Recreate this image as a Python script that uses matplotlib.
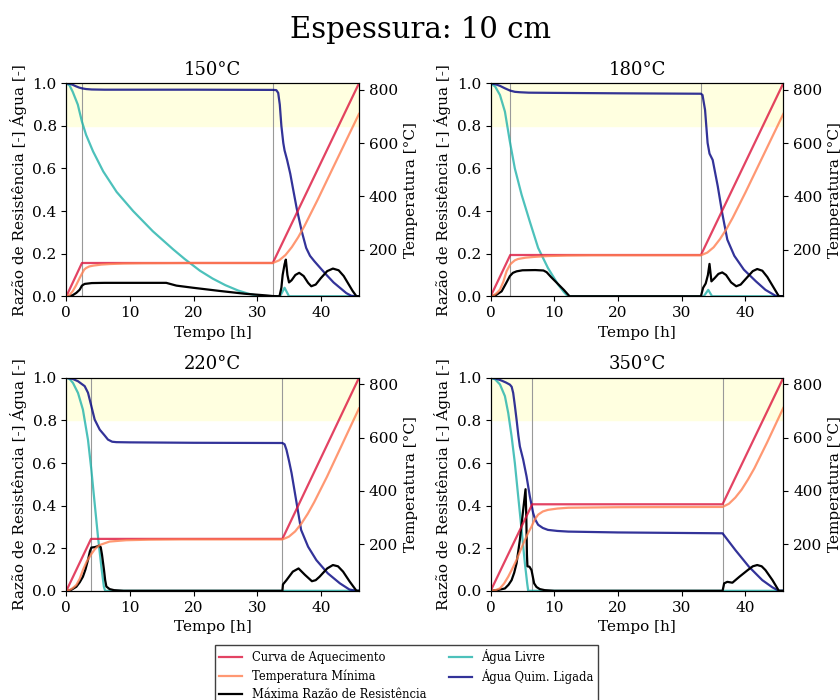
"""
Espessura 10 cm: curvas de aquecimento, água livre / quimicamente ligada
e máxima razão de resistência para quatro patamares de temperatura.
"""

import matplotlib
matplotlib.use("Agg")
import matplotlib.pyplot as plt

plt.rcParams["font.family"] = "serif"

# -------------------- dados --------------------
patamares = ["150°C", "180°C", "220°C", "350°C"]
t_fim = 46.0

# início / fim do patamar [h]
t_inicio = [2.45, 3.08, 3.88, 6.53]
t_final = [32.45, 33.05, 33.96, 36.45]

# curva de aquecimento (pontos de quebra)
aq_t = [
    [0, 2.45, 32.45, 46],
    [0, 3.08, 33.05, 46],
    [0, 3.88, 33.96, 46],
    [0, 6.53, 36.45, 46],
]
aq_T = [
    [25, 150, 150, 825],
    [25, 180, 180, 825],
    [25, 220, 220, 825],
    [25, 350, 350, 825],
]

# temperatura mínima [°C]
tmin_t = [
    [0, 0.5, 1.0, 1.5, 2.1, 2.45, 2.8, 3.1, 3.6, 4.2, 5.5, 6.8, 9, 12, 20,
     32.45, 33.45, 34.45, 35.45, 36.45, 37.45, 39.45, 42, 46],
    [0, 0.5, 1.0, 1.46, 2.0, 2.5, 3.08, 3.3, 3.8, 4.3, 5.5, 6.9, 9, 12, 16,
     33.05, 34.05, 35.05, 36.05, 37.05, 38.05, 40.05, 46],
    [0, 0.5, 1.0, 1.57, 2.1, 2.6, 3.2, 3.93, 4.5, 5.24, 6.8, 9.4, 13, 18,
     33.96, 34.96, 35.96, 36.96, 37.96, 38.96, 40.96, 46],
    [0, 0.7, 1.46, 2.1, 2.76, 3.4, 4.07, 4.7, 5.38, 5.9, 6.42, 6.9, 7.46, 8.2,
     9.0, 10.5, 12.2, 20, 36.45, 37.45, 38.45, 39.45, 40.45, 41.45, 43.45, 46],
]
tmin_T = [
    [25, 30, 44, 65, 94, 110, 125, 131, 137, 140, 144, 146, 148, 149, 150,
     150, 160, 180, 210, 247, 290, 385, 512, 710],
    [25, 29, 38, 50, 80, 119, 145, 150, 160, 165, 170, 173, 176, 178, 179,
     179, 189, 209, 240, 277, 320, 415, 710],
    [25, 28, 35, 47, 70, 103, 135, 163, 182, 197, 210, 215, 217, 218,
     218, 228, 248, 278, 315, 358, 453, 710],
    [25, 27, 34, 52, 78, 108, 141, 178, 216, 243, 266, 292, 311, 323,
     329, 334, 337, 339, 340, 352, 375, 405, 443, 485, 582, 712],
]

# água livre [-]
livre_t = [
    [0, 0.5, 1.0, 1.8, 2.0, 2.45, 3.1, 4.2, 5.8, 7.9, 10.5, 13.6, 16.8, 18.6,
     21, 23, 25, 27, 28.5, 30, 31, 33.6, 34.3, 35.0, 46],
    [0, 0.7, 1.46, 2.24, 3.02, 3.8, 4.86, 6.16, 7.46, 9.0, 10.6, 11.5, 12.15,
     33.5, 34.2, 34.8, 46],
    [0, 0.5, 1.04, 1.83, 2.6, 3.4, 3.93, 4.45, 4.97, 5.5, 5.9, 6.1, 46],
    [0, 0.7, 1.46, 2.24, 2.76, 3.29, 3.8, 4.33, 4.86, 5.38, 5.74, 5.9, 46],
]
livre_y = [
    [1.0, 0.99, 0.96, 0.90, 0.875, 0.82, 0.758, 0.68, 0.586, 0.49, 0.40, 0.305,
     0.22, 0.175, 0.12, 0.083, 0.052, 0.027, 0.013, 0.003, 0.0, 0.0, 0.04,
     0.0, 0.0],
    [1.0, 0.985, 0.945, 0.867, 0.726, 0.60, 0.477, 0.35, 0.227, 0.133, 0.055,
     0.02, 0.0, 0.0, 0.03, 0.0, 0.0],
    [1.0, 0.995, 0.976, 0.929, 0.851, 0.709, 0.568, 0.41, 0.254, 0.113, 0.019,
     0.0, 0.0],
    [1.0, 0.993, 0.969, 0.914, 0.835, 0.725, 0.60, 0.443, 0.286, 0.129, 0.035,
     0.0, 0.0],
]

# água quimicamente ligada [-]
ligada_t = [
    [0, 0.5, 1.0, 1.5, 2.0, 2.5, 3.1, 4, 6, 10, 20, 32.45, 33.0, 33.3, 33.55,
     33.8, 34.1, 34.3, 34.7, 35.2, 35.6, 36.2, 37.0, 37.7, 38.3, 39.0, 40.0,
     40.9, 42, 43, 44, 44.8, 46],
    [0, 0.7, 1.46, 2.2, 3.03, 3.8, 4.6, 6, 10, 20, 33.05, 33.3, 33.7, 34.1,
     34.4, 34.9, 35.7, 36.4, 37.2, 38.3, 39.8, 41.7, 43.2, 44.8, 46],
    [0, 1.0, 1.83, 2.88, 3.4, 3.93, 4.45, 5.24, 6.0, 6.54, 7.2, 7.86, 10, 20,
     33.96, 34.3, 34.6, 35.0, 35.4, 36.2, 36.9, 38.0, 39.3, 41.1, 43.0, 44.5,
     45.6, 46],
    [0, 0.8, 1.72, 2.4, 3.02, 3.3, 3.54, 3.8, 4.07, 4.35, 4.59, 5.11, 5.64,
     6.16, 6.68, 7.0, 7.46, 8.2, 9.0, 10.5, 12.2, 20, 36.45, 38.5, 40.6, 42.7,
     44.3, 45.3, 46],
]
ligada_y = [
    [1.0, 0.998, 0.993, 0.986, 0.98, 0.976, 0.973, 0.971, 0.970, 0.970, 0.970,
     0.969, 0.968, 0.955, 0.90, 0.80, 0.72, 0.685, 0.64, 0.575, 0.51, 0.414,
     0.305, 0.227, 0.19, 0.164, 0.13, 0.10, 0.065, 0.04, 0.015, 0.002, 0.0],
    [1.0, 0.996, 0.988, 0.977, 0.966, 0.960, 0.958, 0.956, 0.955, 0.953, 0.951,
     0.945, 0.875, 0.72, 0.67, 0.64, 0.516, 0.39, 0.266, 0.19, 0.125, 0.07,
     0.03, 0.002, 0.0],
    [1.0, 0.995, 0.984, 0.961, 0.93, 0.867, 0.804, 0.757, 0.73, 0.71, 0.70,
     0.698, 0.697, 0.695, 0.694, 0.688, 0.662, 0.61, 0.553, 0.411, 0.286,
     0.207, 0.144, 0.082, 0.035, 0.006, 0.0, 0.0],
    [1.0, 0.997, 0.987, 0.978, 0.968, 0.958, 0.929, 0.87, 0.804, 0.73, 0.678,
     0.616, 0.537, 0.443, 0.365, 0.335, 0.31, 0.295, 0.286, 0.281, 0.278,
     0.274, 0.27, 0.19, 0.113, 0.05, 0.016, 0.0, 0.0],
]

# máxima razão de resistência [-]
razao_t = [
    [0, 0.5, 1.0, 1.57, 2.1, 2.45, 2.88, 4.0, 6, 10, 15.7, 17.3, 19.9, 24.1,
     28, 31.4, 32.45, 33.5, 33.8, 34.0, 34.3, 34.5, 34.75, 35.0, 35.4, 36.0,
     36.6, 37.3, 38.0, 38.5, 39.2, 40.0, 41.0, 41.9, 42.8, 43.6, 44.4, 45.0,
     45.6, 46],
    [0, 0.8, 1.72, 2.4, 3.02, 3.5, 4.07, 5, 7, 8.3, 8.8, 9.5, 10.5, 11.5,
     12.4, 33.05, 33.4, 33.8, 34.15, 34.4, 34.7, 35.2, 35.8, 36.4, 37.0, 37.8,
     38.6, 39.3, 40.2, 41.2, 41.9, 42.7, 43.5, 44.3, 45.3, 46],
    [0, 0.8, 1.57, 2.1, 2.6, 3.0, 3.4, 3.7, 3.93, 4.45, 4.8, 5.13, 5.4, 5.6,
     5.92, 6.1, 6.29, 6.8, 7.5, 9, 33.96, 34.05, 34.6, 35.1, 35.6, 36.5, 37.5,
     38.6, 39.2, 39.8, 41.0, 41.9, 42.7, 43.5, 44.5, 45.6, 46],
    [0, 1.2, 2.24, 2.8, 3.29, 3.7, 4.07, 4.59, 5.11, 5.48, 5.6, 5.7, 5.78,
     6.1, 6.42, 6.6, 6.83, 7.2, 7.72, 8.5, 10, 36.45, 36.6, 36.7, 37.2, 38.0,
     39.1, 40.4, 41.2, 41.9, 42.6, 43.2, 44.3, 45.3, 46],
]
razao_y = [
    [0, 0.001, 0.005, 0.016, 0.031, 0.05, 0.058, 0.062, 0.063, 0.063, 0.063,
     0.05, 0.04, 0.025, 0.012, 0.004, 0.001, 0.0, 0.04, 0.10, 0.15, 0.172,
     0.10, 0.065, 0.075, 0.10, 0.11, 0.095, 0.063, 0.047, 0.055, 0.085, 0.118,
     0.13, 0.122, 0.095, 0.055, 0.025, 0.0, 0.0],
    [0, 0.005, 0.023, 0.06, 0.095, 0.11, 0.117, 0.122, 0.123, 0.121, 0.113,
     0.09, 0.06, 0.03, 0.0, 0.0, 0.04, 0.06, 0.1, 0.152, 0.07, 0.085, 0.105,
     0.112, 0.1, 0.065, 0.047, 0.055, 0.085, 0.118, 0.128, 0.12, 0.09, 0.05,
     0.0, 0.0],
    [0, 0.005, 0.019, 0.04, 0.066, 0.1, 0.145, 0.185, 0.203, 0.205, 0.208,
     0.212, 0.205, 0.17, 0.097, 0.05, 0.02, 0.008, 0.003, 0.0, 0.0, 0.03,
     0.05, 0.07, 0.09, 0.105, 0.075, 0.045, 0.05, 0.066, 0.105, 0.121, 0.115,
     0.09, 0.045, 0.0, 0.0],
    [0, 0.004, 0.011, 0.028, 0.05, 0.085, 0.129, 0.239, 0.38, 0.477, 0.35,
     0.17, 0.115, 0.113, 0.097, 0.07, 0.035, 0.018, 0.008, 0.003, 0.0, 0.0,
     0.02, 0.035, 0.042, 0.038, 0.066, 0.097, 0.115, 0.121, 0.115, 0.097,
     0.05, 0.0, 0.0],
]

# -------------------- estilo --------------------
COR_AQ = "crimson"
COR_TMIN = "coral"
COR_LIVRE = "lightseagreen"
COR_LIGADA = "navy"
COR_RAZAO = "black"
ALPHA = 0.8
LW = 1.6


def painel(ax, i):
    ax.axhspan(0.8, 1.0, color="lightyellow", zorder=0)
    ax.axvline(t_inicio[i], color="0.6", lw=0.8)
    ax.axvline(t_final[i], color="0.6", lw=0.8)

    ax.plot(livre_t[i], livre_y[i], color=COR_LIVRE, alpha=ALPHA, lw=LW,
            label="Água Livre")
    ax.plot(ligada_t[i], ligada_y[i], color=COR_LIGADA, alpha=ALPHA, lw=LW,
            label="Água Quim. Ligada")
    ax.plot(razao_t[i], razao_y[i], color=COR_RAZAO, lw=LW,
            label="Máxima Razão de Resistência")
    ax.set_xlim(0, t_fim)
    ax.set_ylim(0, 1)
    ax.set_xticks([0, 10, 20, 30, 40])
    ax.set_xlabel("Tempo [h]", fontsize=11)
    ax.set_ylabel("Razão de Resistência [-] Água [-]", fontsize=11)
    ax.set_title(patamares[i], fontsize=13)
    ax.tick_params(labelsize=11)

    ax2 = ax.twinx()
    ax2.plot(aq_t[i], aq_T[i], color=COR_AQ, alpha=ALPHA, lw=LW,
             label="Curva de Aquecimento")
    ax2.plot(tmin_t[i], tmin_T[i], color=COR_TMIN, alpha=ALPHA, lw=LW,
             label="Temperatura Mínima")
    ax2.set_ylim(25, 825)
    ax2.set_yticks([200, 400, 600, 800])
    ax2.set_ylabel("Temperatura [°C]", fontsize=11)
    ax2.tick_params(labelsize=11)
    return ax2


def main():
    fig, axes = plt.subplots(2, 2, figsize=(8.4, 7), dpi=100)
    fig.subplots_adjust(left=0.079, right=0.9325, bottom=0.156, top=0.881,
                        wspace=0.45, hspace=0.383)

    for i, ax in enumerate(axes.flat):
        ax2 = painel(ax, i)

    h1, l1 = ax.get_legend_handles_labels()
    h2, l2 = ax2.get_legend_handles_labels()
    # ordem: aquecimento, mínima, razão | livre, ligada
    handles = [h2[0], h2[1], h1[2], h1[0], h1[1]]
    labels = [l2[0], l2[1], l1[2], l1[0], l1[1]]
    fig.legend(handles, labels, loc="upper center",
               bbox_to_anchor=(0.484, 0.087), ncol=2, fontsize=8.3,
               labelspacing=0.42, fancybox=False, edgecolor="0.25",
               framealpha=1)

    fig.suptitle("Espessura: 10 cm", fontsize=21, y=0.977)
    fig.savefig("out.png", dpi=100)
    plt.close(fig)


if __name__ == "__main__":
    main()
